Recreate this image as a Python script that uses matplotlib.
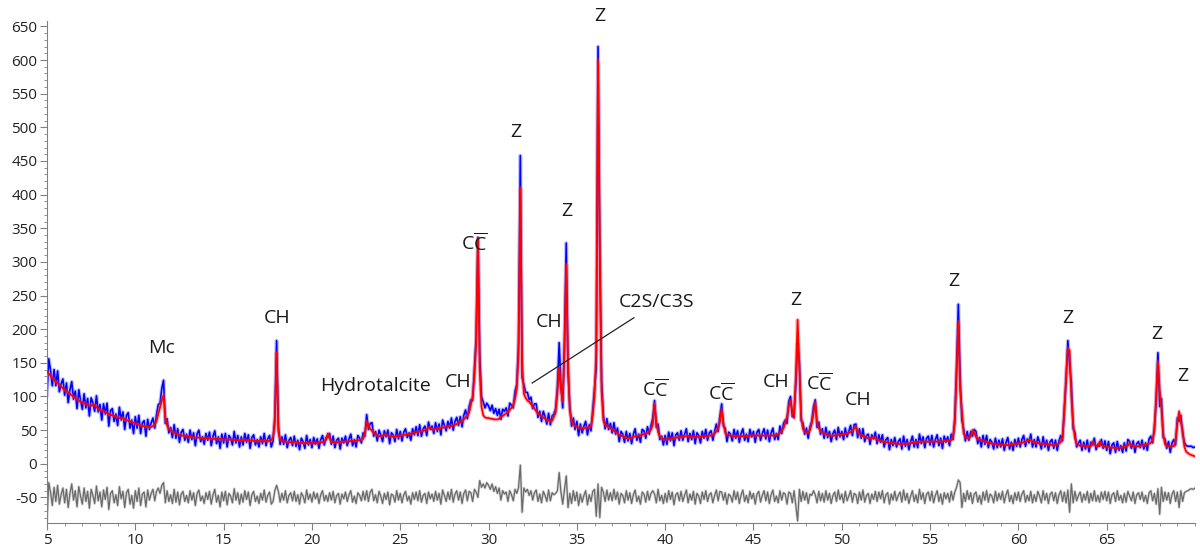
import numpy as np
import matplotlib.pyplot as plt
from matplotlib.ticker import MultipleLocator, FixedLocator

plt.rcParams['font.family'] = ['Open Sans', 'DejaVu Sans']
plt.rcParams['mathtext.fontset'] = 'custom'
plt.rcParams['mathtext.rm'] = 'Open Sans'
plt.rcParams['axes.unicode_minus'] = False

# 2-theta scan, 5..70 deg in 0.1 deg steps
start_2theta = 5.0
step_2theta = 0.1

# calculated (fitted) intensity, one row per degree
calc = [
    137, 134, 131, 128, 125, 122, 120, 117, 115, 112,
    110, 108, 106, 104, 102, 100, 98, 96, 94, 92,
    91, 90, 89, 88, 87, 86, 88, 87, 84, 82,
    80, 79, 78, 77, 75, 74, 73, 72, 71, 70,
    69, 68, 67, 68, 66, 65, 64, 63, 62, 61,
    60, 59, 58, 57, 56, 56, 55, 55, 55, 55,
    56, 58, 64, 74, 84, 94, 102, 68, 57, 52,
    50, 48, 46, 45, 44, 43, 42, 42, 41, 41,
    40, 40, 40, 39, 39, 39, 39, 38, 38, 38,
    38, 38, 38, 37, 37, 37, 37, 37, 37, 36,
    36, 36, 36, 36, 36, 36, 35, 35, 35, 35,
    35, 35, 35, 35, 35, 35, 35, 34, 34, 34,
    34, 34, 34, 34, 34, 34, 34, 35, 40, 60,
    165, 48, 36, 34, 33, 33, 32, 32, 32, 32,
    32, 32, 31, 31, 31, 31, 31, 31, 31, 31,
    31, 31, 31, 31, 32, 32, 32, 33, 36, 45,
    38, 33, 32, 32, 32, 32, 32, 33, 33, 33,
    33, 33, 34, 34, 34, 34, 35, 35, 36, 37,
    45, 63, 57, 52, 49, 46, 44, 42, 41, 41,
    42, 43, 43, 42, 41, 41, 40, 40, 41, 41,
    42, 42, 43, 43, 44, 44, 45, 45, 46, 47,
    47, 48, 48, 49, 50, 51, 54, 53, 51, 51,
    52, 52, 53, 53, 54, 54, 55, 55, 56, 56,
    57, 58, 59, 61, 62, 64, 66, 69, 72, 76,
    88, 100, 130, 180, 336, 140, 85, 72, 69, 68,
    68, 67, 67, 66, 66, 66, 67, 70, 71, 73,
    75, 77, 80, 83, 88, 96, 112, 165, 410, 150,
    104, 98, 94, 92, 89, 86, 82, 78, 75, 73,
    71, 69, 67, 65, 64, 63, 64, 70, 76, 105,
    143, 110, 93, 170, 296, 150, 80, 65, 58, 56,
    55, 54, 54, 53, 53, 53, 54, 54, 55, 72,
    100, 170, 600, 330, 110, 65, 58, 56, 55, 53,
    51, 49, 47, 45, 43, 42, 41, 40, 38, 38,
    38, 39, 40, 41, 41, 42, 42, 43, 44, 45,
    46, 48, 51, 58, 89, 62, 47, 41, 38, 37,
    36, 36, 37, 37, 38, 38, 39, 39, 40, 40,
    41, 41, 41, 41, 40, 40, 40, 40, 40, 40,
    40, 40, 41, 41, 41, 42, 42, 43, 45, 48,
    53, 62, 81, 60, 46, 43, 42, 42, 41, 41,
    41, 41, 41, 41, 41, 41, 41, 41, 42, 42,
    42, 42, 42, 42, 42, 42, 42, 42, 42, 42,
    42, 42, 42, 43, 44, 46, 49, 53, 60, 70,
    85, 94, 78, 68, 130, 214, 140, 70, 52, 48,
    46, 47, 50, 60, 75, 91, 62, 53, 49, 46,
    45, 44, 43, 42, 42, 42, 42, 42, 43, 43,
    43, 44, 44, 45, 46, 47, 49, 52, 55, 48,
    44, 42, 41, 40, 39, 38, 38, 38, 40, 38,
    36, 35, 34, 33, 33, 32, 32, 31, 31, 31,
    30, 30, 30, 29, 29, 30, 30, 30, 30, 31,
    31, 31, 32, 32, 32, 33, 33, 33, 33, 33,
    33, 33, 33, 33, 33, 33, 33, 33, 34, 34,
    34, 34, 35, 40, 60, 130, 211, 110, 80, 46,
    40, 38, 38, 41, 50, 46, 40, 37, 36, 35,
    34, 33, 32, 31, 31, 30, 30, 29, 29, 29,
    28, 28, 28, 28, 28, 28, 29, 29, 29, 30,
    30, 31, 31, 32, 33, 34, 36, 35, 33, 32,
    31, 31, 30, 30, 30, 29, 29, 29, 28, 28,
    28, 28, 29, 30, 32, 40, 75, 130, 172, 168,
    100, 60, 38, 30, 28, 27, 27, 27, 26, 26,
    26, 26, 33, 28, 27, 26, 33, 28, 26, 25,
    25, 25, 24, 24, 24, 23, 23, 24, 24, 25,
    25, 26, 27, 31, 28, 26, 26, 26, 26, 27,
    27, 28, 28, 29, 30, 31, 36, 48, 100, 152,
    110, 82, 45, 29, 27, 26, 26, 26, 26, 34,
    60, 78, 62, 50, 25, 18, 16, 14, 13, 12,
    11,
]

resid = [
    -35, 22, 8, -12, 15, -6, 18, -10, 4, 14,
    -8, 12, -15, 6, 20, -4, 10, -14, 16, 2,
    -10, 14, -6, 9, -16, 12, 3, -9, 17, -5,
    8, -14, 11, -3, 15, -18, 6, 10, -8, 4,
    -12, 16, -2, 9, -15, 7, 12, -10, 3, -16,
    10, -6, 14, -12, 5, 8, -14, 11, -4, 6,
    12, -5, 9, 14, 6, 18, 22, -8, 10, -6,
    4, -9, 12, -7, 8, -11, 5, 9, -6, 3,
    -8, 10, -4, 7, -12, 6, 11, -5, 2, -9,
    7, -3, 9, -10, 4, 12, -7, 3, -14, 8,
    -5, 9, -11, 6, 2, -8, 13, -4, 7, -10,
    5, -7, 10, -3, 8, -12, 4, 9, -6, 2,
    -9, 6, -4, 11, -7, 3, 8, -10, -6, 10,
    18, 9, -7, 6, -4, 10, -8, 3, 7, -5,
    9, -6, 4, -10, 7, 2, -8, 11, -3, 5,
    -7, 8, -2, 6, -9, 4, 10, -5, 3, -6,
    7, -4, 9, -8, 3, 6, -10, 5, -2, 8,
    -6, 4, 10, -7, 2, -9, 7, 3, -5, 9,
    -4, 10, -6, 8, 12, -5, 4, -8, 9, 2,
    -9, 6, -3, 8, -11, 5, 3, -7, 10, -4,
    6, -8, 4, 9, -5, 2, -10, 7, -3, 8,
    -5, 10, -7, 3, 6, -9, 8, -2, 5, -6,
    9, -4, 6, -10, 11, 3, -6, 8, -3, 12,
    -7, 5, 10, -4, 8, -9, 6, 11, -5, 9,
    7, -6, 12, 8, 0, 25, 15, 20, 14, 22,
    18, 12, 20, 9, 16, 6, 14, -4, 10, 5,
    8, -6, 10, 4, -5, 12, 6, 15, 48, -22,
    14, 8, 12, 3, 10, -4, 7, 11, -6, 5,
    -8, 9, 3, -6, 11, -5, 7, 4, 6, 10,
    37, 8, -10, 12, 32, -15, 6, -9, 10, -5,
    8, -12, 5, -7, 3, 10, -11, 4, -6, 9,
    12, -28, 20, -30, 15, 8, -6, 11, -4, 7,
    -5, 12, -3, 8, -10, 6, 3, -8, 10, -4,
    7, -9, 4, 11, -6, 2, -10, 8, 5, -7,
    9, -4, 6, 10, 5, -8, 12, -5, 3, -9,
    6, -7, 10, -3, 8, -11, 4, 7, -5, 9,
    -6, 3, 11, -8, 5, -4, 9, -10, 6, 2,
    -9, 8, -3, 10, -6, 4, 7, -8, 3, 11,
    -5, 9, 8, -4, 7, -10, 5, 2, -7, 10,
    -3, 8, -9, 4, 11, -6, 3, -8, 9, -2,
    6, -10, 5, 9, -7, 3, 10, -5, 8, -9,
    4, 11, -6, 2, -8, 10, -4, 7, 5, -10,
    8, 6, -8, 10, -12, -35, 12, -6, 9, -4,
    7, -9, 5, 3, 10, 4, -8, 9, -5, 6,
    -7, 10, -4, 6, -9, 3, 8, -6, 11, -3,
    5, -8, 9, -5, 2, 10, -7, 6, 4, -9,
    8, -4, 11, -7, 3, 6, -9, 5, -3, 9,
    -6, 8, -2, 10, -8, 4, 7, -10, 5, -4,
    9, -5, 3, 8, -7, 11, -4, 6, -9, 2,
    10, -6, 4, -8, 12, -3, 7, -9, 5, 8,
    -5, 9, -8, 3, 10, -6, 5, -10, 7, -2,
    6, -7, 9, -4, 8, 15, 26, 22, -15, 6,
    -6, 10, -3, 7, -9, 5, 8, -7, 3, -10,
    8, -4, 10, -7, 5, 2, -8, 9, -5, 6,
    -3, 9, -8, 4, 11, -6, 3, -9, 7, -4,
    8, -6, 5, 10, -7, 3, -5, 9, -8, 4,
    -6, 9, 2, -8, 10, -4, 6, -9, 5, 8,
    -5, 7, -9, 4, 10, -6, 8, -8, 11, -22,
    20, -8, 9, -5, 3, 8, -7, 5, -4, 9,
    -8, 6, -5, 10, -6, 3, -7, 8, -3, 9,
    -5, 8, -9, 4, 7, -6, 10, -4, 3, -8,
    6, -7, 9, 2, -5, 8, -9, 4, 7, -3,
    8, -6, 3, -9, 7, 10, -5, 6, -10, 13,
    -25, 15, -6, 8, -4, 7, -9, 5, 10, -6,
    8, -15, 10, -6, 7, 9, 10, 12, 13, 12,
    14,
]
diff_offset = -50

x_ticks = [5, 10, 15, 20, 25, 30, 35, 40, 45, 50, 55, 60, 65]

# phase labels: (text, 2theta, intensity)
cc = r"C$\overline{\mathrm{C}}$"
labels = [
    ("Mc", 11.5, 172), ("CH", 18.0, 217), ("Hydrotalcite", 23.6, 115),
    ("CH", 28.3, 122), (cc, 29.2, 327), ("Z", 31.55, 493),
    ("CH", 33.4, 210), ("Z", 34.45, 376), ("Z", 36.3, 665),
    ("C2S/C3S", 39.5, 241), (cc, 39.42, 110),
    (cc, 43.2, 105), ("CH", 46.27, 122), ("Z", 47.4, 244),
    (cc, 48.73, 119), ("CH", 50.93, 95), ("Z", 56.35, 271),
    ("Z", 62.8, 216), ("Z", 67.83, 193), ("Z", 69.3, 131),
]
c2s_leader = ([32.47, 38.23], [120, 217])

calc = np.array(calc, dtype=float)
resid = np.array(resid, dtype=float)
assert len(calc) == len(resid)
two_theta = start_2theta + step_2theta * np.arange(len(calc))
obs = calc + resid
diff = resid + diff_offset

fig = plt.figure(figsize=(12, 5.46), dpi=100)
ax = fig.add_axes([47 / 1200, 1 - 523 / 546, 1148 / 1200, 502 / 546])

# observed: soft halo + solid core
ax.plot(two_theta, obs, color='#5a5aff', lw=2.8, alpha=0.35, zorder=2)
ax.plot(two_theta, obs, color='#0000ff', lw=1.2, zorder=2)
# calculated
ax.plot(two_theta, calc, color='#ff4040', lw=3.0, alpha=0.3, zorder=3)
ax.plot(two_theta, calc, color='#ff0000', lw=1.3, zorder=3)
# difference
ax.plot(two_theta, diff, color='#909090', lw=2.0, alpha=0.35, zorder=2)
ax.plot(two_theta, diff, color='#6a6a6a', lw=0.9, zorder=2)

ax.plot(*c2s_leader, color='#222222', lw=0.9, zorder=4)
for txt, x, y in labels:
    ax.text(x, y, txt, ha='center', va='center', fontsize=14,
            color='#1a1a1a', clip_on=False, zorder=5)

ax.set_xlim(5, 70)
ax.set_ylim(-88, 658)
ax.xaxis.set_major_locator(FixedLocator(x_ticks))
ax.xaxis.set_minor_locator(MultipleLocator(1))
ax.yaxis.set_major_locator(MultipleLocator(50))
ax.yaxis.set_minor_locator(MultipleLocator(10))

for side in ['top', 'right']:
    ax.spines[side].set_visible(False)
for side in ['left', 'bottom']:
    ax.spines[side].set_color('#808080')
ax.tick_params(which='major', length=5, color='#808080', labelsize=11,
               labelcolor='#222222', pad=2)
ax.tick_params(which='minor', length=2.5, color='#808080')

fig.savefig('out.png', dpi=100)
